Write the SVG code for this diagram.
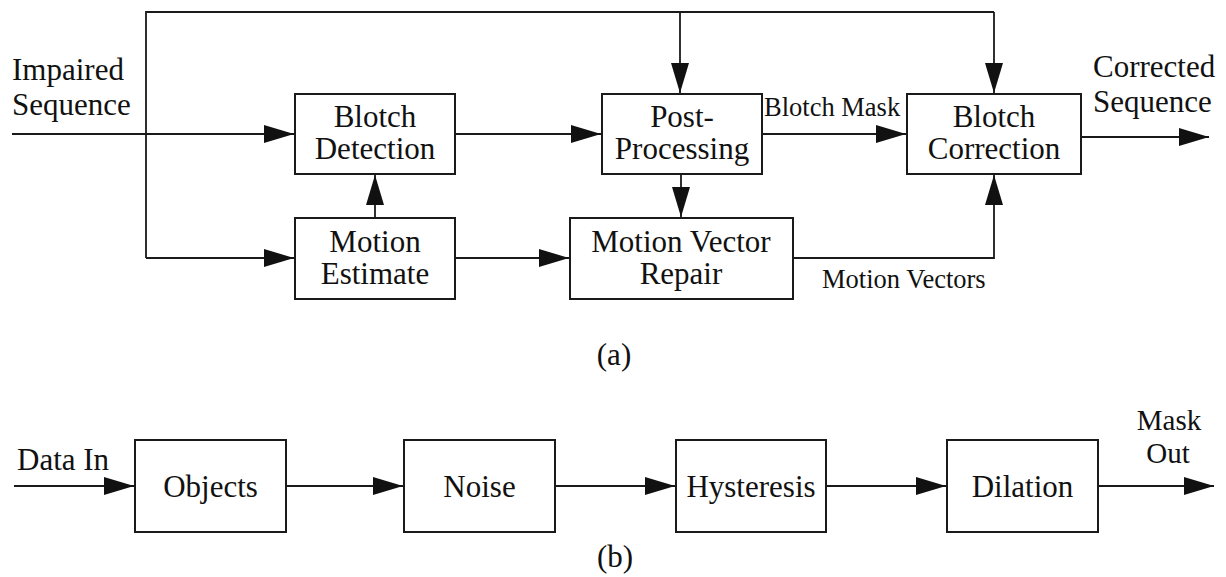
<svg xmlns="http://www.w3.org/2000/svg" width="1226" height="577" viewBox="0 0 1226 577">
  <style>
    .box { fill: #ffffff; stroke: #1a1a1a; stroke-width: 2; }
    .wire { fill: none; stroke: #1a1a1a; stroke-width: 1.8; }
    .arrow { fill: none; stroke: #1a1a1a; stroke-width: 1.8; marker-end: url(#head); }
    text { font-family: "Liberation Serif", "Times New Roman", serif; fill: #111111; }
    .t { font-family: "Liberation Serif", "Times New Roman", serif; font-size: 31px; text-anchor: middle; }
    .lbl { font-family: "Liberation Serif", "Times New Roman", serif; font-size: 31px; }
    .small { font-family: "Liberation Serif", "Times New Roman", serif; font-size: 26.5px; }
    .out { font-family: "Liberation Serif", "Times New Roman", serif; font-size: 29px; text-anchor: middle; }
  </style>
  <defs>
    <marker id="head" markerUnits="userSpaceOnUse" markerWidth="30" markerHeight="18" refX="30" refY="9" orient="auto">
      <path d="M0,0 L30,9 L0,18 Z" fill="#111111"/>
    </marker>
  </defs>

  <rect width="1226" height="577" fill="#ffffff"/>

  <!-- connectors -->
  <g id="connectors">
    <!-- (a) -->
    <polyline class="wire" points="146,258 146,12 994,12"/>
    <line class="arrow" x1="680" y1="12" x2="680" y2="93"/>
    <line class="arrow" x1="994" y1="12" x2="994" y2="93"/>
    <line class="arrow" x1="12" y1="134" x2="294" y2="134"/>
    <line class="arrow" x1="146" y1="258" x2="294" y2="258"/>
    <line class="arrow" x1="375" y1="218" x2="375" y2="175"/>
    <line class="arrow" x1="455" y1="134" x2="601" y2="134"/>
    <line class="arrow" x1="455" y1="258" x2="569" y2="258"/>
    <line class="arrow" x1="681" y1="174" x2="681" y2="217"/>
    <line class="arrow" x1="762" y1="134" x2="906" y2="134"/>
    <polyline class="arrow" points="793,258 994,258 994,175"/>
    <line class="arrow" x1="1081" y1="137" x2="1209" y2="137"/>
    <!-- (b) -->
    <line class="arrow" x1="14" y1="486" x2="134" y2="486"/>
    <line class="arrow" x1="286" y1="486" x2="403" y2="486"/>
    <line class="arrow" x1="555" y1="486" x2="675" y2="486"/>
    <line class="arrow" x1="826" y1="486" x2="946" y2="486"/>
    <line class="arrow" x1="1098" y1="486" x2="1214" y2="486"/>
  </g>

  <!-- (a) nodes -->
  <g id="blotch-detection">
    <rect class="box" x="295" y="94" width="160" height="80"/>
    <text class="t" x="375" y="127">Blotch</text>
    <text class="t" x="375" y="159">Detection</text>
  </g>
  <g id="motion-estimate">
    <rect class="box" x="295" y="218" width="160" height="81"/>
    <text class="t" x="375" y="252">Motion</text>
    <text class="t" x="375" y="284">Estimate</text>
  </g>
  <g id="post-processing">
    <rect class="box" x="602" y="94" width="160" height="80"/>
    <text class="t" x="682" y="127">Post-</text>
    <text class="t" x="682" y="159">Processing</text>
  </g>
  <g id="motion-vector-repair">
    <rect class="box" x="570" y="218" width="223" height="81"/>
    <text class="t" x="681" y="252">Motion Vector</text>
    <text class="t" x="681" y="284">Repair</text>
  </g>
  <g id="blotch-correction">
    <rect class="box" x="907" y="94" width="174" height="80"/>
    <text class="t" x="994" y="127">Blotch</text>
    <text class="t" x="994" y="159">Correction</text>
  </g>

  <g id="labels-a">
    <text class="lbl" x="12" y="80">Impaired</text>
    <text class="lbl" x="12" y="115">Sequence</text>
    <text class="lbl" x="1093" y="77">Corrected</text>
    <text class="lbl" x="1093" y="112">Sequence</text>
    <text class="small" x="764" y="116">Blotch Mask</text>
    <text class="small" x="822" y="288">Motion Vectors</text>
    <text class="t" x="614" y="365">(a)</text>
  </g>

  <!-- (b) nodes -->
  <g id="objects">
    <rect class="box" x="135" y="440" width="151" height="92"/>
    <text class="t" x="210.5" y="497">Objects</text>
  </g>
  <g id="noise">
    <rect class="box" x="404" y="440" width="151" height="92"/>
    <text class="t" x="479.5" y="497">Noise</text>
  </g>
  <g id="hysteresis">
    <rect class="box" x="676" y="440" width="150" height="92"/>
    <text class="t" x="751" y="497">Hysteresis</text>
  </g>
  <g id="dilation">
    <rect class="box" x="947" y="440" width="151" height="92"/>
    <text class="t" x="1022.5" y="497">Dilation</text>
  </g>

  <g id="labels-b">
    <text class="lbl" x="17" y="470">Data In</text>
    <text class="out" x="1169" y="430">Mask</text>
    <text class="out" x="1168" y="463">Out</text>
    <text class="t" x="615" y="567">(b)</text>
  </g>
</svg>
